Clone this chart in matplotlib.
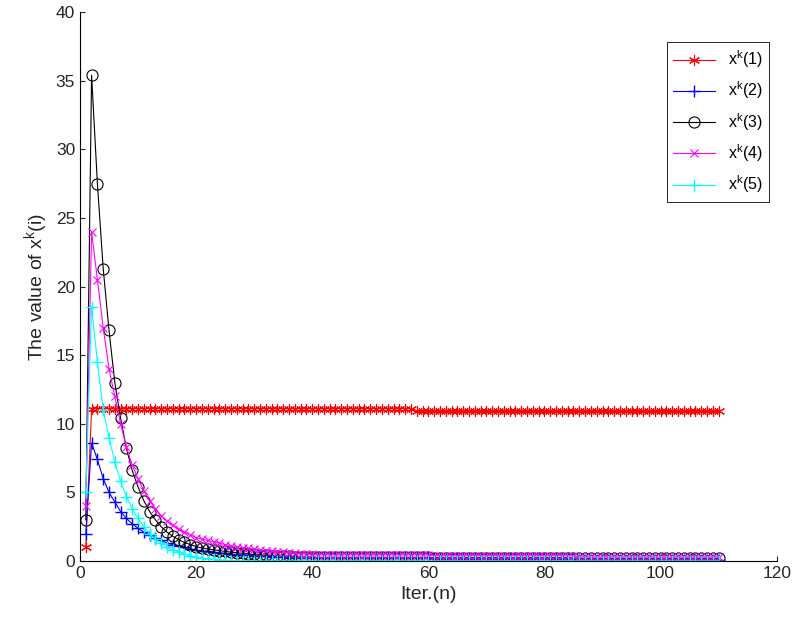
import matplotlib.pyplot as plt
import numpy as np

plt.rcParams['font.family'] = ['Liberation Sans', 'DejaVu Sans']
plt.rcParams['mathtext.fontset'] = 'custom'
plt.rcParams['mathtext.rm'] = 'Liberation Sans'
plt.rcParams['mathtext.it'] = 'Liberation Sans'

iters = list(range(1, 111))

x1 = [1.0] + [11.1] * 56 + [10.9] * 53
x2 = [2.0, 8.6, 7.4, 6.0, 5.0, 4.3, 3.6, 3.1, 2.7, 2.4, 2.1, 1.9, 1.7, 1.5, 1.3,
      1.2, 1.1, 1.0, 0.9, 0.8, 0.75, 0.7, 0.65, 0.6, 0.55, 0.5, 0.47, 0.44, 0.41, 0.38] \
     + [0.35, 0.33, 0.31, 0.29, 0.27, 0.25, 0.24, 0.23, 0.22, 0.21] \
     + [0.2] * 20 + [0.15] * 25 + [0.1] * 25
x3 = [3.0, 35.4, 27.5, 21.3, 16.8, 13.0, 10.4, 8.2, 6.6, 5.4, 4.4, 3.6, 3.0, 2.5, 2.1,
      1.8, 1.55, 1.35, 1.2, 1.05, 0.95, 0.88, 0.82, 0.76, 0.7, 0.65, 0.6, 0.56, 0.52, 0.48] \
     + [0.45, 0.42, 0.4, 0.38, 0.36, 0.34, 0.32, 0.3, 0.29, 0.28] \
     + [0.27] * 20 + [0.24] * 25 + [0.2] * 25
x4 = [4.0, 24.0, 20.5, 17.0, 14.0, 12.0, 10.0, 8.3, 7.0, 6.0, 5.1, 4.4, 3.8, 3.3, 2.9,
      2.6, 2.3, 2.1, 1.9, 1.7, 1.6, 1.5, 1.4, 1.3, 1.2, 1.12, 1.05, 0.98, 0.92, 0.86] \
     + [0.8, 0.76, 0.72, 0.68, 0.64, 0.6, 0.57, 0.54, 0.51, 0.48] \
     + [0.45] * 20 + [0.38] * 25 + [0.3] * 25
x5 = [5.0, 18.5, 14.5, 11.0, 9.0, 7.2, 5.8, 4.7, 3.8, 3.1, 2.5, 2.0, 1.6, 1.3, 1.0,
      0.8, 0.65, 0.5, 0.4, 0.3, 0.22, 0.16, 0.12, 0.08, 0.05, 0.03, 0.02, 0.01, 0.0, 0.0] \
     + [0.0] * 80

fig = plt.figure(figsize=(7.95, 6.35), dpi=100)
ax = fig.add_axes([0.1006, 0.1165, 0.8764, 0.8645])
ax.plot(iters, x1, '-', marker=(6, 2, 0), color='#FF0000', lw=0.8, ms=8, mew=0.8, label='x$^k$(1)')
ax.plot(iters, x2, '-+', color='#0000FF', lw=0.8, ms=8, mew=1.0, label='x$^k$(2)')
ax.plot(iters, x3, '-o', color='k', lw=0.8, ms=8, mfc='none', mew=0.8, label='x$^k$(3)')
ax.plot(iters, x4, '-x', color='#FF00FF', lw=0.8, ms=6, mew=0.8, label='x$^k$(4)')
ax.plot(iters, x5, '-+', color='#00FFFF', lw=0.8, ms=8, mew=1.0, label='x$^k$(5)')

ax.set_xlim(0, 120)
ax.set_ylim(0, 40)
ax.set_xticks(np.arange(0, 121, 20))
ax.set_yticks(np.arange(0, 41, 5))
ax.spines['top'].set_visible(False)
ax.spines['right'].set_visible(False)
ax.tick_params(direction='in', labelsize=12.5, colors='#262626')
ax.set_xlabel('Iter.(n)', fontsize=14, color='#262626')
ax.set_ylabel('The value of x$^k$(i)', fontsize=14, color='#262626')
leg = ax.legend(loc='upper right', bbox_to_anchor=(1.0, 0.96), fontsize=11.5,
                fancybox=False, edgecolor='k', framealpha=1, handlelength=2.6,
                labelspacing=0.6)
leg.get_frame().set_linewidth(0.6)

fig.savefig('out.png')
